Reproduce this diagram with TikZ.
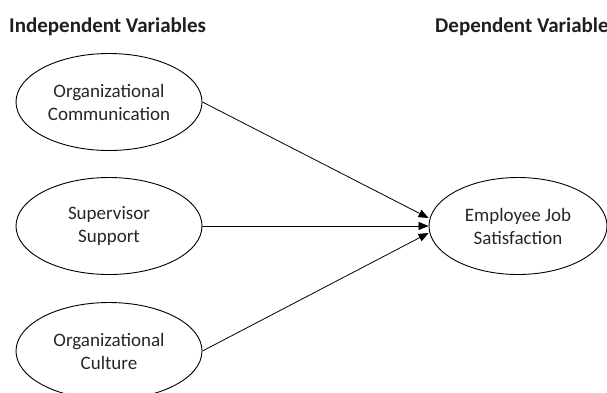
\documentclass[tikz,border=0pt]{standalone}
\usepackage{fontspec}
\setmainfont{Carlito}
\usetikzlibrary{arrows.meta,shapes.geometric}
\begin{document}
\begin{tikzpicture}[x=1pt,y=-1pt,
  var/.style={draw, line width=0.9pt, ellipse, minimum width=186pt, minimum height=97pt,
    inner sep=0pt, align=center, font=\fontsize{19}{23}\selectfont, text=black!85},
  head/.style={anchor=base west, inner sep=0pt, font=\fontsize{21}{25}\selectfont\bfseries, text=black!88},
  link/.style={line width=0.8pt, -{Triangle[length=10pt,width=8pt]}}]
\useasboundingbox (0,0) rectangle (607,392);

% column headings
\node[head] (hin) at (9,32) {Independent Variables};
\node[head] (hdep) at (435,32) {Dependent Variable};

% independent variables
\node[var] (comm) at (109,102) {Organizational\\Communication};
\node[var] (supp) at (109,226) {Supervisor\\Support};
\node[var] (cult) at (109,351) {Organizational\\Culture};

% dependent variable
\node[var, minimum width=178pt] (sat) at (518,226) {Employee Job\\Satisfaction};

% paths into the dependent variable, tips stacked at its west point
\coordinate (tA) at ([yshift=8pt]sat.west);
\coordinate (tB) at ([yshift=-7pt]sat.west);
\draw[link] (comm.east) -- (tA);
\draw[link] (supp.east) -- (sat.west);
\draw[link] (cult.east) -- (tB);
\end{tikzpicture}
\end{document}
